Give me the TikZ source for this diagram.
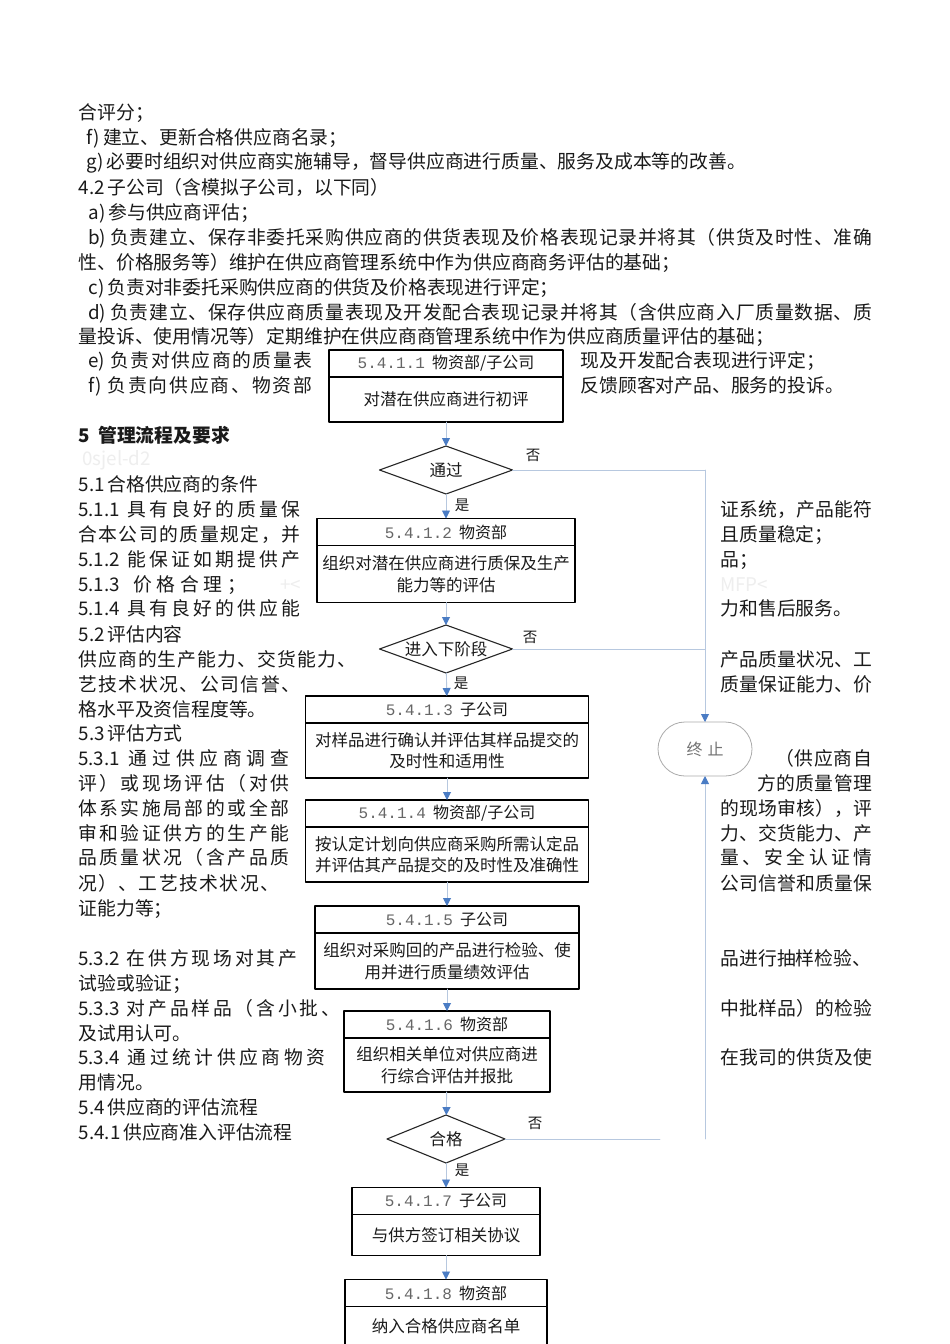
\documentclass[tikz,border=0pt]{standalone}
\usepackage{fontspec}
\setmainfont{Noto Sans CJK SC}
\newfontfamily\spmono{Liberation Mono}
\usepackage{xcolor}
\usepackage{tikz}
\usetikzlibrary{arrows.meta,positioning,shapes.geometric,shapes.misc}
\definecolor{spInk}{HTML}{1A1A1A}
\definecolor{spLine}{HTML}{B7C8DF}
\definecolor{spTip}{HTML}{4A7CC4}
\definecolor{spStop}{HTML}{ABABAB}
\definecolor{spGhost}{HTML}{EEEEEE}
% stretchable glue between the characters of a justified line
\def\spchars#1{#1\spcharsnext}
\def\spcharsnext#1{\ifx#1\relax\else\hskip 0pt plus 1fil\relax#1\expandafter\spcharsnext\fi}
\newcommand{\spread}[3]{\makebox[#1pt][s]{#2\expandafter\spchars#3\relax}}
\newcommand{\stepno}[1]{{\spmono\color{black!60}#1}}
\tikzset{
  sp diagram/.style={x=1pt, y=-1pt, text=spInk,
    line cap=round, line join=round},
  sp text/.style={anchor=base west, inner sep=0pt,
    font=\fontsize{18.8}{22}\selectfont},
  sp ghost/.style={sp text, text=spGhost},
  sp head/.style={draw=black, line width=1.1pt, fill=white, inner sep=0pt,
    outer sep=0pt, minimum height=27pt, font=\fontsize{16}{20}\selectfont},
  sp body/.style={sp head, align=center, font=\fontsize{16.5}{21.5}\selectfont},
  sp decision/.style={diamond, draw=black!85, line width=1.1pt, fill=white,
    inner sep=0pt, outer sep=0pt, minimum width=133pt, minimum height=48pt,
    font=\fontsize{16.5}{20}\selectfont},
  sp stop/.style={rounded rectangle, draw=spStop, line width=0.8pt, fill=white,
    minimum width=94pt, minimum height=54pt, inner sep=0pt, outer sep=0pt,
    text=black!55, font=\fontsize{16}{20}\selectfont},
  sp line/.style={draw=spLine, line width=0.9pt},
  sp arrow/.style={sp line, -{Triangle[length=8pt, width=8pt, color=spTip]}},
  sp label/.style={inner sep=0pt, font=\fontsize{14.5}{16}\selectfont}
}

\begin{document}
\begin{tikzpicture}[sp diagram]
\path[use as bounding box, fill=white] (0,0) rectangle (950,1344);
% running text of the page
\foreach \x/\y/\w/\p/\t [count=\i] in {
  78/119/0/{}/{合评分；},
  86/144/0/{f)\ }/{建立、更新合格供应商名录；},
  86/168/0/{g)\ }/{必要时组织对供应商实施辅导，督导供应商进行质量、服务及成本等的改善。},
  78/194/0/{4.2\ }/{子公司（含模拟子公司，以下同）},
  88/219/0/{a)\ }/{参与供应商评估；},
  88/244/784/{b)\ }/{负责建立、保存非委托采购供应商的供货表现及价格表现记录并将其（供货及时性、准确},
  78/269/0/{}/{性、价格服务等）维护在供应商管理系统中作为供应商商务评估的基础；},
  88/294/0/{c)\ }/{负责对非委托采购供应商的供货及价格表现进行评定；},
  88/319/784/{d)\ }/{负责建立、保存供应商质量表现及开发配合表现记录并将其（含供应商入厂质量数据、质},
  78/343/0/{}/{量投诉、使用情况等）定期维护在供应商商管理系统中作为供应商质量评估的基础；},
  88/367/224/{e)\ \hfil}/{负责对供应商的质量表},
  580/367/0/{}/{现及开发配合表现进行评定；},
  88/392/224/{f)\ \hfil}/{负责向供应商、物资部},
  580/392/0/{}/{反馈顾客对产品、服务的投诉。},
  78/491/0/{5.1\ }/{合格供应商的条件},
  78/516/222/{5.1.1\ \hfil}/{具有良好的质量保},
  78/541/222/{}/{合本公司的质量规定，并},
  78/566/222/{5.1.2\ \hfil}/{能保证如期提供产},
  78/591/168/{5.1.3\ \ \hfil}/{价格合理；},
  78/615/222/{5.1.4\ \hfil}/{具有良好的供应能},
  78/641/0/{5.2\ }/{评估内容},
  78/666/278/{}/{供应商的生产能力、交货能力、},
  78/691/222/{}/{艺技术状况、公司信誉、},
  78/716/0/{}/{格水平及资信程度等。},
  78/740/0/{5.3\ }/{评估方式},
  78/765/211/{5.3.1\ \hfil}/{通过供应商调查},
  78/790/211/{}/{评）或现场评估（对供},
  78/815/211/{}/{体系实施局部的或全部},
  78/840/211/{}/{审和验证供方的生产能},
  78/864/211/{}/{品质量状况（含产品质},
  78/890/201/{}/{况）、工艺技术状况、},
  78/915/0/{}/{证能力等；},
  78/965/219/{5.3.2\ \hfil}/{在供方现场对其产},
  78/990/0/{}/{试验或验证；},
  78/1015/262/{5.3.3\ \hfil}/{对产品样品（含小批、},
  78/1040/0/{}/{及试用认可。},
  78/1064/247/{5.3.4\ \hfil}/{通过统计供应商物资},
  78/1089/0/{}/{用情况。},
  78/1114/0/{5.4\ }/{供应商的评估流程},
  78/1139/0/{5.4.1\ }/{供应商准入评估流程},
  720/516/152/{}/{证系统，产品能符},
  720/541/0/{}/{且质量稳定；},
  720/566/0/{}/{品；},
  720/615/0/{}/{力和售后服务。},
  720/666/152/{}/{产品质量状况、工},
  720/691/152/{}/{质量保证能力、价},
  775/765/97/{}/{（供应商自},
  757/790/115/{}/{方的质量管理},
  720/815/152/{}/{的现场审核），评},
  720/840/152/{}/{力、交货能力、产},
  720/864/152/{}/{量、安全认证情},
  720/890/152/{}/{公司信誉和质量保},
  720/965/0/{}/{品进行抽样检验、},
  720/1015/152/{}/{中批样品）的检验},
  720/1064/152/{}/{在我司的供货及使}}
  \node[sp text] (line\i) at (\x,\y) {\spread{\w}{\p}{\t}};
\node[sp text, font=\fontsize{18.8}{22}\selectfont\bfseries] (sec5) at (78,442) {5\ \ 管理流程及要求};
\node[sp ghost] (ghost1) at (82,465) {0sjel-d2};
\node[sp ghost] (ghost2) at (280,591) {+<};
\node[sp ghost] (ghost3) at (720,591) {MFP<};

% flow chart
\node[sp head, minimum width=234pt] (h1) at (446,363.5) {\stepno{5.4.1.1}\ \ 物资部/子公司};
\node[sp body, minimum width=234pt, minimum height=45pt, below=0pt of h1] (b1) {对潜在供应商进行初评};
\node[sp decision] (d1) at (446,470) {\makebox[0pt]{通过}};
\node[sp head, minimum width=258pt] (h2) at (446,532) {\stepno{5.4.1.2}\ \ 物资部};
\node[sp body, minimum width=258pt, minimum height=57pt, below=0pt of h2] (b2) {组织对潜在供应商进行质保及生产\\能力等的评估};
\node[sp decision] (d2) at (446,649) {\makebox[0pt]{进入下阶段}};
\node[sp head, minimum width=283pt] (h3) at (447,709.5) {\stepno{5.4.1.3}\ \ 子公司};
\node[sp body, minimum width=283pt, minimum height=55pt, below=0pt of h3] (b3) {对样品进行确认并评估其样品提交的\\及时性和适用性};
\node[sp head, minimum width=283pt] (h4) at (447,813.5) {\stepno{5.4.1.4}\ \ 物资部/子公司};
\node[sp body, minimum width=283pt, minimum height=55pt, below=0pt of h4] (b4) {按认定计划向供应商采购所需认定品\\并评估其产品提交的及时性及准确性};
\node[sp head, minimum width=264pt] (h5) at (447,919.5) {\stepno{5.4.1.5}\ \ 子公司};
\node[sp body, minimum width=264pt, minimum height=56pt, below=0pt of h5] (b5) {组织对采购回的产品进行检验、使\\用并进行质量绩效评估};
\node[sp head, minimum width=206pt] (h6) at (447,1024.5) {\stepno{5.4.1.6}\ \ 物资部};
\node[sp body, minimum width=206pt, minimum height=54pt, below=0pt of h6] (b6) {组织相关单位对供应商进\\行综合评估并报批};
\node[sp decision, minimum width=118pt] (d3) at (446,1139) {\makebox[0pt]{合格}};
\node[sp head, minimum width=188pt] (h7) at (446,1201) {\stepno{5.4.1.7}\ \ 子公司};
\node[sp body, minimum width=188pt, minimum height=41pt, below=0pt of h7] (b7) {与供方签订相关协议};
\node[sp head, minimum width=202pt] (h8) at (446,1293) {\stepno{5.4.1.8}\ \ 物资部};
\node[sp body, minimum width=202pt, minimum height=40pt, below=0pt of h8] (b8) {纳入合格供应商名单};
\node[sp stop] (stop) at (705,749) {终\hspace{5pt}止};

\draw[sp arrow] (b1) -- (d1);
\draw[sp arrow] (d1) -- (h2);
\draw[sp arrow] (b2) -- (d2);
\draw[sp arrow] (d2) -- (h3);
\draw[sp arrow] (b3) -- (h4);
\draw[sp arrow] (b4) -- (h5);
\draw[sp arrow] (b5) -- (h6);
\draw[sp arrow] (b6) -- (d3);
\draw[sp arrow] (d3) -- (h7);
\draw[sp arrow] (b7) -- (h8);
% the "no" branches
\draw[sp line] (d1.east) -- (d1.east -| stop.north);
\draw[sp arrow] (d1.east -| stop.north) -- (stop.north);
\draw[sp line] (d2.east) -- (d2.east -| stop.north);
\coordinate (cut3) at (660,1139);
\draw[sp line] (d3.east) -- (cut3);
\draw[sp arrow] (d3.east -| stop.south) -- (stop.south);
\node[sp label] (no1) at (533,455) {否};
\node[sp label] (yes1) at (462,505) {是};
\node[sp label] (no2) at (530,637) {否};
\node[sp label] (yes2) at (461,683) {是};
\node[sp label] (no3) at (535,1123) {否};
\node[sp label] (yes3) at (462,1170) {是};
\end{tikzpicture}
\end{document}
